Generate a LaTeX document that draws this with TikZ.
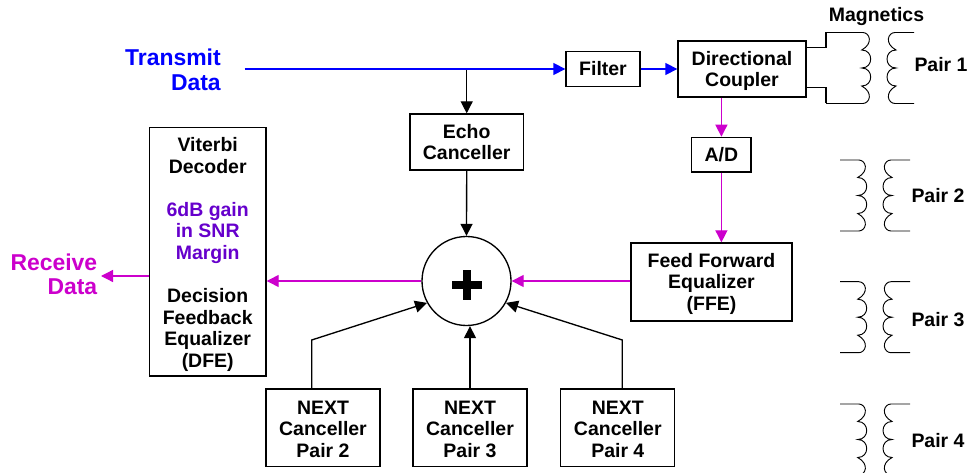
\documentclass[tikz,border=0pt]{standalone}
\usepackage{fontspec}
\setmainfont{Liberation Sans}
\usetikzlibrary{arrows.meta,calc}
\definecolor{txblue}{RGB}{0,0,255}
\definecolor{rxmag}{RGB}{204,0,204}
\definecolor{vit}{RGB}{102,0,204}
\tikzset{
  x=0.75pt,y=-0.75pt,
  txtf/.style={font=\bfseries\fontsize{14.6}{16.2}\selectfont},
  boxn/.style={draw=black,line width=1pt,fill=white,align=center,txtf,inner sep=0pt},
  lab/.style={txtf,align=center,inner sep=0pt},
  big/.style={font=\bfseries\fontsize{17.2}{18.4}\selectfont,align=right,inner sep=0pt,anchor=east},
  tip/.style={-{Triangle[length=9pt,width=9pt]}},
  blk/.style={draw=black,line width=1pt},
  blu/.style={draw=txblue,line width=1pt},
  mag/.style={draw=rxmag,line width=1pt},
  wire/.style={draw=black,line width=0.7pt},
}
\newcommand{\coilpair}[3]{% x of left peak, top y, left end of the top and bottom lines
  \begin{scope}[shift={(#1,#2)}]
    \draw[wire] (#3,0) -- (-8,0) .. controls (-1,0) and (3,11) .. (-9,17.5)
      .. controls (3,17.5) and (3,35.5) .. (-9,35.5)
      .. controls (3,35.5) and (3,53.5) .. (-9,53.5)
      .. controls (3,60) and (-1,71) .. (-8,71) -- (#3,71);
    \draw[wire] (43.3,0) -- (24.3,0) .. controls (17.3,0) and (13.3,11) .. (25.3,17.5)
      .. controls (13.3,17.5) and (13.3,35.5) .. (25.3,35.5)
      .. controls (13.3,35.5) and (13.3,53.5) .. (25.3,53.5)
      .. controls (13.3,60) and (17.3,71) .. (24.3,71) -- (43.3,71);
  \end{scope}
}
\begin{document}
\begin{tikzpicture}
\useasboundingbox (0,0) rectangle (969,473);
\clip (0,0) rectangle (969,473);
% boxes
\node[boxn,minimum width=55.5pt,minimum height=26.25pt] (filter) at (603,69) {Filter};
\node[boxn,minimum width=96pt,minimum height=42pt] (dc) at (742,69) {\rule{0pt}{13.5pt}Directional\\Coupler};
\node[boxn,minimum width=44.5pt,minimum height=26pt] (ad) at (721.4,154.7) {A/D};
\node[boxn,minimum width=85pt,minimum height=42pt] (echo) at (466.7,142) {Echo\\Canceller};
\node[boxn,minimum width=120.75pt,minimum height=58.5pt] (ffe) at (711.5,282) {\rule{0pt}{13.5pt}Feed Forward\hspace{4pt}\\Equalizer\\(FFE)};
\node[boxn,minimum width=87.5pt,minimum height=186.2pt] (dfe) at (207.7,251.8) {\rule{0pt}{14.5pt}Viterbi\\Decoder\\\mbox{}\\\textcolor{vit}{6dB gain}\\\textcolor{vit}{in SNR}\\\textcolor{vit}{Margin}\\\mbox{}\\Decision\\Feedback\\Equalizer\\(DFE)};
\node[circle,draw=black,line width=1pt,fill=white,minimum size=66.75pt,inner sep=0pt] (sum) at (466.5,281) {};
\node[boxn,minimum width=85.5pt,minimum height=58.3pt] (n2) at (323,427.8) {\rule{0pt}{12pt}NEXT\\Canceller\\Pair 2};
\node[boxn,minimum width=85.5pt,minimum height=58.3pt] (n3) at (470,427.8) {\rule{0pt}{12pt}NEXT\\Canceller\\Pair 3};
\node[boxn,minimum width=85.5pt,minimum height=58.3pt] (n4) at (617.8,427.8) {\rule{0pt}{12pt}NEXT\\Canceller\\Pair 4};
\fill[black] (462.7,270.5) rectangle (470.7,300.5);
\fill[black] (451.7,281) rectangle (481.7,289.5);
% labels
\node[big,text=txblue] (tx) at (221,70) {Transmit\\Data};
\node[big,text=rxmag] (rx) at (97.5,274.5) {Receive\\Data};
\node[lab] (magn) at (876.5,17) {Magnetics};
\node[lab] (p1) at (941,65) {Pair 1};
\node[lab] (p2) at (938,196) {Pair 2};
\node[lab] (p3) at (938,319.5) {Pair 3};
\node[lab] (p4) at (938,440.5) {Pair 4};
% coordinates
\coordinate (txs) at (244.5,69);
\coordinate (txj) at (466.7,69);
\coordinate (rxp) at (101,276);
\coordinate (p1a) at (826,47.7);
\coordinate (p1b) at (826,32.5);
\coordinate (p1c) at (826,87.3);
\coordinate (p1d) at (826,103.5);
\coordinate (n2k) at (311.7,340);
\coordinate (n4k) at (622.3,340);
% connectors
\draw[blk,tip] (txj) -- (echo.north);
\draw[blu,tip] (txs) -- (filter.west);
\draw[blu,tip] (filter.east) -- (dc.west);
\draw[blk,tip] (echo.south) -- (sum.north);
\draw[mag,tip] (dc.south -| ad.north) -- (ad.north);
\draw[mag,tip] (ad.south) -- (ffe.north -| ad.south);
\draw[mag,tip] (ffe.west |- sum.east) -- (sum.east);
\draw[mag,tip] (sum.west) -- (dfe.east |- sum.west);
\draw[mag,tip] (dfe.west |- rxp) -- (rxp);
\draw[blk,tip] (n3.north) -- (sum.south -| n3.north);
\draw[blk,tip] (n2.north -| n2k) -- (n2k) -- (sum.209);
\draw[blk,tip] (n4.north -| n4k) -- (n4k) -- (sum.331);
% magnetics
\draw[wire,line width=1pt] (dc.east |- p1a) -- (p1a) -- (p1b);
\draw[wire,line width=1pt] (dc.east |- p1c) -- (p1c) -- (p1d);
\coilpair{870.7}{32.5}{-44.7}
\coilpair{866.7}{160}{-26.7}
\coilpair{866.7}{281.7}{-26.7}
\coilpair{866.7}{404}{-26.7}
\end{tikzpicture}
\end{document}
